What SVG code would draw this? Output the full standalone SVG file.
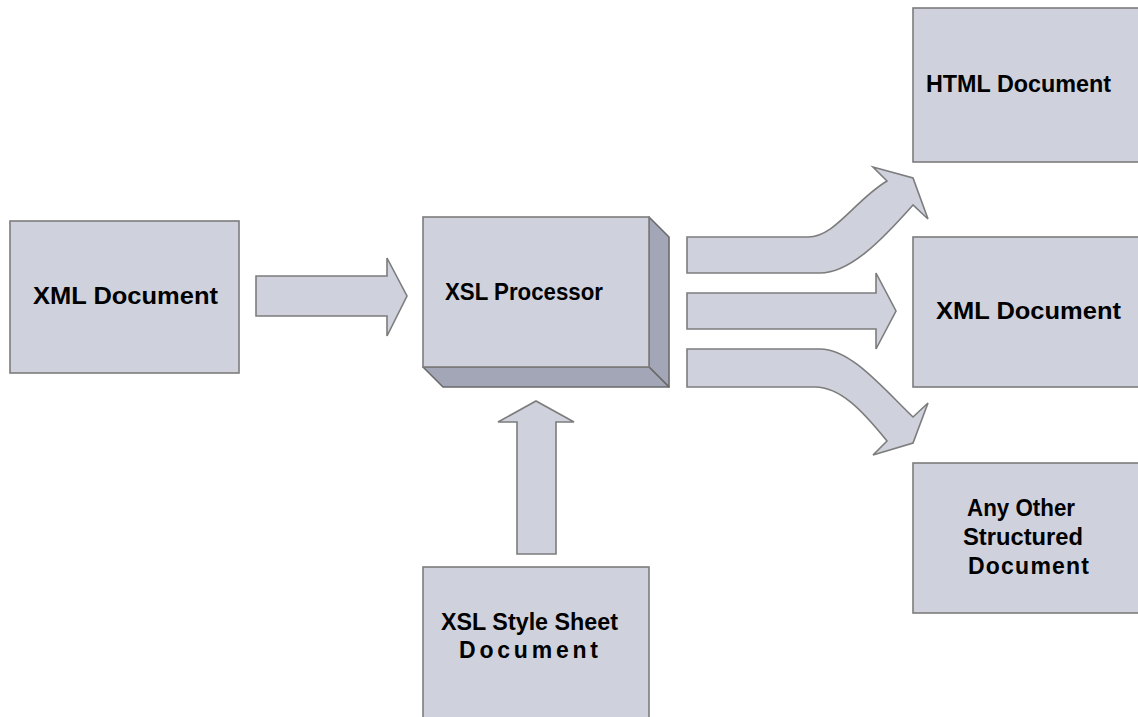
<svg xmlns="http://www.w3.org/2000/svg" width="1138" height="717" viewBox="0 0 1138 717">
<style>
.box{fill:#CFD2DC;stroke:#7C7C7C;stroke-width:1.6}
.dark{fill:#A2A6B7;stroke:#6A6A6A;stroke-width:1.6;stroke-linejoin:round}
.arr{fill:#CFD2DC;stroke:#7C7C7C;stroke-width:1.6;stroke-linejoin:miter}
.t{font-family:"Liberation Sans",Arial,sans-serif;font-weight:bold;font-size:23px;fill:#000}
</style>
<rect width="1138" height="717" fill="#FFFFFF"/>
<g id="connectors">
<path class="arr" d="M256,276 H387 V258 L407,296 L387,336 V316 H256 Z"/>
<path class="arr" d="M517,554 V422 H498 L536,401 L574,422 H556 V554 Z"/>
<path class="arr" d="M687,237 H808 C835,237 855,200 887,181 L873,167 L913,178 L928,219 L913,205 C882,240 850,273 820,273 H687 Z"/>
<path class="arr" d="M687,293 H876 V273 L896,311 L876,349 V329 H687 Z"/>
<path class="arr" d="M687,349 H820 C850,349 880,385 913,417 L928,403 L913,443 L873,455 L887,441 C862,410 840,387 815,387 H687 Z"/>
</g>
<g id="xml-input">
<rect class="box" x="10" y="221" width="229" height="152"/>
<text class="t" x="33" y="304" textLength="185" lengthAdjust="spacingAndGlyphs">XML Document</text>
</g>
<g id="xsl-processor">
<polygon class="dark" points="649,217 669,237 669,387 649,367"/>
<polygon class="dark" points="423,367 649,367 669,387 443,387"/>
<rect class="box" x="423" y="217" width="226" height="150"/>
<text class="t" x="445" y="300" textLength="158" lengthAdjust="spacingAndGlyphs">XSL Processor</text>
</g>
<g id="xsl-stylesheet">
<rect class="box" x="423" y="567" width="226" height="160"/>
<text class="t" x="441" y="630" textLength="177" lengthAdjust="spacingAndGlyphs">XSL Style Sheet</text>
<text class="t" x="459" y="658" textLength="139" lengthAdjust="spacing">Document</text>
</g>
<g id="html-output">
<rect class="box" x="913" y="8" width="235" height="154"/>
<text class="t" x="926" y="92" textLength="185" lengthAdjust="spacingAndGlyphs">HTML Document</text>
</g>
<g id="xml-output">
<rect class="box" x="913" y="237" width="235" height="150"/>
<text class="t" x="936" y="319" textLength="185" lengthAdjust="spacingAndGlyphs">XML Document</text>
</g>
<g id="other-output">
<rect class="box" x="913" y="463" width="235" height="150"/>
<text class="t" x="967" y="516" textLength="108" lengthAdjust="spacingAndGlyphs">Any Other</text>
<text class="t" x="963" y="545" textLength="120" lengthAdjust="spacingAndGlyphs">Structured</text>
<text class="t" x="968" y="574" textLength="121" lengthAdjust="spacing">Document</text>
</g>
</svg>
